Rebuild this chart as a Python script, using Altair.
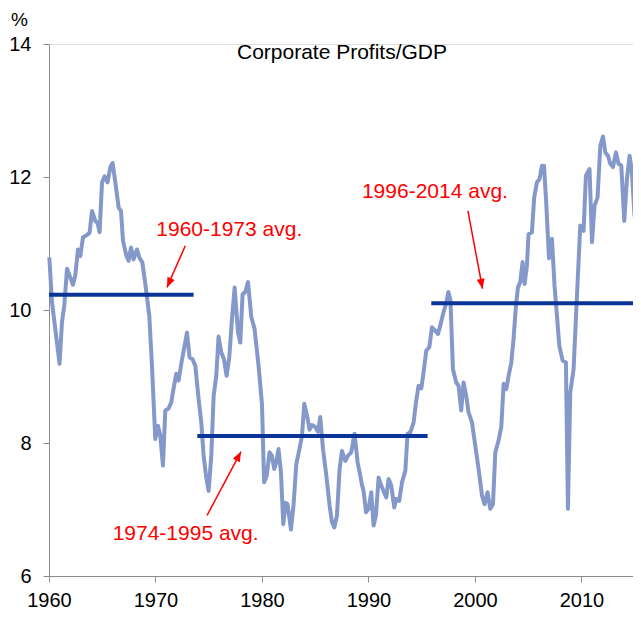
import altair as alt
import pandas as pd

# ---- series: Corporate Profits / GDP (%) ----
years = [
    1960.03, 1960.28, 1960.99, 1961.22, 1961.44, 1961.69, 1962.00, 1962.25, 1962.47, 1962.72,
    1962.94, 1963.19, 1963.57, 1963.81, 1964.04, 1964.35, 1964.56, 1964.75, 1964.98, 1965.22,
    1965.50, 1965.76, 1965.97, 1966.23, 1966.54, 1966.76, 1966.95, 1967.26, 1967.47, 1967.70,
    1967.94, 1968.26, 1968.51, 1968.76, 1969.04, 1969.42, 1969.67, 1969.98, 1970.23, 1970.45,
    1970.70, 1970.92, 1971.23, 1971.48, 1971.74, 1971.95, 1972.17, 1972.42, 1972.73, 1972.96,
    1973.20, 1973.48, 1973.74, 1974.05, 1974.30, 1974.52, 1974.74, 1974.99, 1975.24, 1975.46,
    1975.71, 1975.92, 1976.18, 1976.43, 1976.68, 1976.93, 1977.18, 1977.43, 1977.75, 1977.96,
    1978.18, 1978.43, 1978.69, 1979.00, 1979.30, 1979.68, 1980.00, 1980.20, 1980.45, 1980.71,
    1980.93, 1981.15, 1981.34, 1981.55, 1981.78, 1982.00, 1982.22, 1982.40, 1982.72, 1982.97,
    1983.22, 1983.53, 1983.76, 1983.97, 1984.23, 1984.47, 1984.69, 1985.00, 1985.26, 1985.47,
    1985.73, 1986.04, 1986.35, 1986.57, 1986.79, 1987.04, 1987.29, 1987.51, 1987.82, 1988.08,
    1988.38, 1988.69, 1988.98, 1989.23, 1989.40, 1989.54, 1989.77, 1990.01, 1990.26, 1990.48,
    1990.70, 1990.95, 1991.20, 1991.46, 1991.67, 1991.89, 1992.14, 1992.42, 1992.61, 1992.89,
    1993.15, 1993.46, 1993.67, 1993.93, 1994.24, 1994.46, 1994.70, 1994.96, 1995.17, 1995.43,
    1995.71, 1995.96, 1996.27, 1996.53, 1996.81, 1997.05, 1997.28, 1997.50, 1997.70, 1997.93,
    1998.24, 1998.46, 1998.71, 1998.93, 1999.18, 1999.40, 1999.72, 2000.03, 2000.34, 2000.66,
    2000.90, 2001.18, 2001.44, 2001.69, 2001.91, 2002.22, 2002.47, 2002.69, 2002.94, 2003.16,
    2003.41, 2003.62, 2003.85, 2004.04, 2004.25, 2004.47, 2004.66, 2004.88, 2005.03, 2005.35,
    2005.56, 2005.82, 2006.07, 2006.29, 2006.48, 2006.69, 2006.95, 2007.23, 2007.47, 2007.70,
    2007.92, 2008.23, 2008.54, 2008.73, 2008.95, 2009.26, 2009.58, 2009.89, 2010.20, 2010.42,
    2010.76, 2010.99, 2011.23, 2011.51, 2011.77, 2012.02, 2012.24, 2012.49, 2012.71, 2012.96,
    2013.24, 2013.48, 2013.74, 2014.02, 2014.27, 2014.52, 2014.74, 2014.98, 2015.21,
]
values = [
    10.79, 10.12, 9.19, 9.82, 10.07, 10.62, 10.49, 10.38, 10.52, 10.91,
    10.81, 11.09, 11.13, 11.16, 11.49, 11.34, 11.31, 11.17, 11.92, 12.01,
    11.92, 12.15, 12.21, 11.92, 11.54, 11.49, 11.04, 10.82, 10.74, 10.94,
    10.76, 10.91, 10.78, 10.72, 10.40, 9.91, 9.16, 8.06, 8.26, 8.11,
    7.66, 8.49, 8.52, 8.61, 8.86, 9.04, 8.94, 9.19, 9.46, 9.66,
    9.29, 9.26, 9.16, 8.66, 8.31, 7.81, 7.51, 7.28, 7.81, 8.71,
    9.01, 9.60, 9.36, 9.26, 9.01, 9.29, 9.86, 10.34, 9.66, 9.51,
    10.24, 10.27, 10.42, 9.89, 9.72, 9.16, 8.58, 7.41, 7.51, 7.86,
    7.81, 7.61, 7.71, 7.91, 7.56, 6.78, 7.10, 7.08, 6.70, 7.08,
    7.68, 7.92, 8.11, 8.59, 8.41, 8.20, 8.27, 8.24, 8.17, 8.39,
    7.91, 7.51, 7.06, 6.81, 6.73, 6.91, 7.61, 7.88, 7.73, 7.81,
    7.86, 8.14, 7.71, 7.51, 7.36, 7.28, 6.96, 7.01, 7.26, 6.76,
    6.91, 7.48, 7.36, 7.26, 7.18, 7.46, 7.36, 7.03, 7.16, 7.13,
    7.41, 7.58, 8.14, 8.16, 8.31, 8.61, 8.86, 8.82, 9.06, 9.39,
    9.44, 9.74, 9.69, 9.64, 9.81, 9.97, 10.09, 10.27, 10.15, 9.11,
    8.91, 8.86, 8.49, 8.91, 8.71, 8.46, 8.31, 7.96, 7.61, 7.21,
    7.08, 7.26, 7.01, 7.08, 7.86, 8.04, 8.24, 8.89, 8.81, 9.01,
    9.21, 9.56, 10.07, 10.34, 10.42, 10.72, 10.39, 10.67, 11.14, 11.17,
    11.69, 11.92, 11.97, 12.17, 12.17, 11.62, 10.78, 11.07, 10.37, 9.91,
    9.46, 9.24, 9.21, 7.01, 8.76, 9.11, 10.22, 11.27, 11.19, 12.02,
    12.12, 11.02, 11.57, 11.69, 12.47, 12.61, 12.37, 12.32, 12.20, 12.15,
    12.37, 12.20, 12.17, 11.34, 11.97, 12.32, 12.07, 11.42, 11.62,
]

# ---- period averages ----
avg_labels = ["1960-1973 avg.", "1974-1995 avg.", "1996-2014 avg."]
avg_start = [1960.0, 1973.93, 1995.9]
avg_end = [1973.58, 1995.55, 2014.84]
avg_value = [10.23, 8.105, 10.10]

# ---- annotation text and arrows (data units) ----
note_x = [1976.93, 1972.83, 1996.24]
note_y = [11.20, 6.63, 11.77]
arrow_x0 = [1972.80, 1974.84, 1999.34]
arrow_y0 = [10.967, 6.91, 11.49]
arrow_x1 = [1971.08, 1978.03, 2000.71]
arrow_y1 = [10.34, 7.87, 10.32]
arrow_angle = [204, 28, 169]

x_ticks = [1960, 1970, 1980, 1990, 2000, 2010]
y_ticks = [6, 8, 10, 12, 14]
chart_title = "Corporate Profits/GDP"

FONT = "Liberation Sans, Arial, Helvetica, sans-serif"
LINE_COLOR = "#8499CA"
AVG_COLOR = "#0A3496"
RED = "#FF0000"

series = pd.DataFrame({"year": years, "value": values})
avgs = pd.DataFrame({"label": avg_labels, "x0": avg_start, "x1": avg_end, "v": avg_value})
notes = pd.DataFrame({
    "label": avg_labels, "nx": note_x, "ny": note_y,
    "ax0": arrow_x0, "ay0": arrow_y0, "ax1": arrow_x1, "ay1": arrow_y1,
    "ang": arrow_angle,
})

xscale = alt.Scale(domain=[1960, 2014.84], nice=False, zero=False)
yscale = alt.Scale(domain=[6, 14], nice=False, zero=False)

xaxis = alt.Axis(values=x_ticks, format="d", title=None, grid=False,
                 tickSize=6, labelPadding=8, labelFontSize=20, labelFont=FONT,
                 labelColor="black", domainColor="#8c8c8c", tickColor="#8c8c8c",
                 labelFlush=False)
yaxis = alt.Axis(values=y_ticks, format="d", grid=False,
                 tickSize=6, labelPadding=12, labelFontSize=20, labelFont=FONT,
                 labelColor="black", domainColor="#8c8c8c", tickColor="#8c8c8c",
                 title="%", titleAngle=0, titleAlign="center", titleBaseline="middle",
                 titleX=-30, titleY=-25, titleFontSize=19, titleFont=FONT,
                 titleFontWeight="normal", titleColor="black")

line = alt.Chart(series).mark_line(
    color=LINE_COLOR, strokeWidth=4, strokeJoin="round", clip=False
).encode(
    x=alt.X("year:Q", scale=xscale, axis=xaxis),
    y=alt.Y("value:Q", scale=yscale, axis=yaxis),
)

avg_rules = alt.Chart(avgs).mark_rule(color=AVG_COLOR, strokeWidth=4, strokeCap="butt").encode(
    x=alt.X("x0:Q", scale=xscale),
    x2="x1:Q",
    y=alt.Y("v:Q", scale=yscale),
)

arrows = alt.Chart(notes).mark_rule(color=RED, strokeWidth=1.5).encode(
    x=alt.X("ax0:Q", scale=xscale),
    y=alt.Y("ay0:Q", scale=yscale),
    x2="ax1:Q",
    y2="ay1:Q",
)

heads = alt.Chart(notes).mark_point(
    shape="M0,0L0.8,2L-0.8,2Z", filled=True, color=RED, opacity=1, size=100, strokeWidth=0
).encode(
    x=alt.X("ax1:Q", scale=xscale),
    y=alt.Y("ay1:Q", scale=yscale),
    angle=alt.Angle("ang:Q", scale=None),
)

texts = alt.Chart(notes).mark_text(
    color=RED, fontSize=21, font=FONT, align="center", baseline="middle"
).encode(
    x=alt.X("nx:Q", scale=xscale),
    y=alt.Y("ny:Q", scale=yscale),
    text="label:N",
)

title = alt.Chart(pd.DataFrame({"t": [chart_title]})).mark_text(
    fontSize=21, font=FONT, color="black", align="center", baseline="middle"
).encode(
    x=alt.value(293),
    y=alt.value(9),
    text="t:N",
)

chart = alt.layer(line, avg_rules, arrows, heads, texts, title).properties(
    width=584,
    height=532,
    autosize=alt.AutoSizeParams(type="none"),
    padding={"left": 41, "top": 36, "right": 0, "bottom": 33},
).configure_view(stroke=None).configure(background="white")

chart.save("out.html", embed_options={"renderer": "svg", "actions": False})
